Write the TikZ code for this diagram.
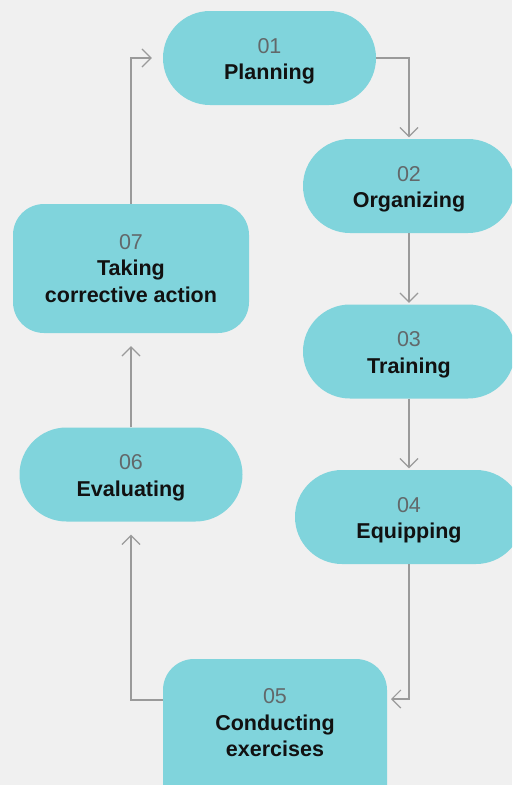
\documentclass[tikz,border=0pt]{standalone}
\usepackage{fontspec}
\setmainfont{Liberation Sans}
\usetikzlibrary{arrows.meta}
\definecolor{bg}{HTML}{F0F0F0}
\definecolor{boxc}{HTML}{80D4DC}
\definecolor{linec}{HTML}{9A9A9A}
\definecolor{numc}{HTML}{62686A}
\definecolor{labc}{HTML}{111111}
\newcommand{\stepnum}[1]{{\color{numc}#1}}
\newcommand{\pillnum}[1]{{\rule{0pt}{21.5pt}\color{numc}#1}}
\newcommand{\steplab}[1]{{\color{labc}\bfseries #1}}
\begin{document}
\begin{tikzpicture}[x=1pt,y=-1pt,
  every node/.style={font=\fontsize{21.5}{26.5}\selectfont},
  pill/.style={fill=boxc, rounded corners=47pt, minimum height=94pt, inner sep=0pt, align=center},
  rbox/.style={fill=boxc, rounded corners=31pt, inner sep=0pt, align=center},
  txt/.style={align=center, inner sep=0pt},
  conn/.style={draw=linec, line width=1.2pt, -{Straight Barb[length=9pt,width=18pt,line width=1.2pt]}}
]
\useasboundingbox (0,0) rectangle (512,785);
\fill[bg] (0,0) rectangle (512,785);
\clip (0,0) rectangle (512,785);

\node[pill, minimum width=213pt] (p1) at (269.5,58) {\pillnum{01}\\\steplab{Planning}};
\node[pill, minimum width=212pt] (o2) at (409,186) {\pillnum{02}\\\steplab{Organizing}};
\node[pill, minimum width=212pt] (t3) at (409,351.5) {\pillnum{03}\\\steplab{Training}};
\node[pill, minimum width=228pt] (e4) at (409,517) {\pillnum{04}\\\steplab{Equipping}};
\node[rbox, minimum width=224pt, minimum height=160pt] (c5) at (275,739) {};
\node[txt] (n5) at (275,723) {\stepnum{05}\\\steplab{Conducting}\\\steplab{exercises}};
\node[pill, minimum width=223pt] (ev) at (131,474.5) {\pillnum{06}\\\steplab{Evaluating}};
\node[rbox, minimum width=236pt, minimum height=129pt] (t7) at (131,268.5) {\stepnum{07}\\\steplab{Taking}\\\steplab{corrective action}};

\coordinate (c5r) at (387,699);
\coordinate (c5l) at (163,700);

\draw[conn, shorten >=1.5pt] (p1.east) -| (o2.north);
\draw[conn, shorten >=1.5pt] (o2.south) -- (t3.north);
\draw[conn, shorten >=1.5pt] (t3.south) -- (e4.north);
\draw[conn, shorten >=4pt] (e4.south) |- (c5r);
\draw[conn, shorten >=13pt] (c5l) -| (ev.south);
\draw[conn, shorten >=13pt] (ev.north) -- (t7.south);
\draw[conn, shorten >=11pt] (t7.north) |- (p1.west);
\end{tikzpicture}
\end{document}
